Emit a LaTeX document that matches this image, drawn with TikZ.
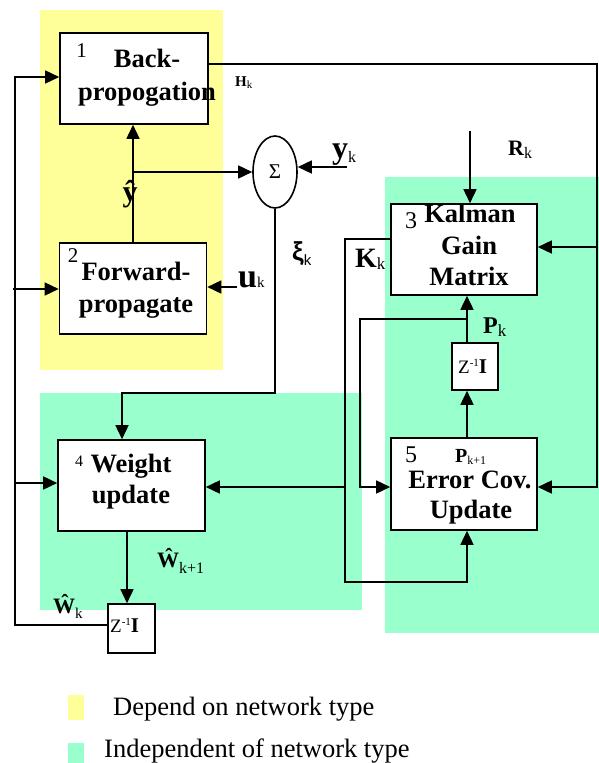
\documentclass[tikz,border=0pt]{standalone}
\usepackage{fontspec}
\setmainfont{Liberation Serif}
\setsansfont{Liberation Sans}
\usetikzlibrary{arrows.meta,shapes.geometric}
\definecolor{yel}{HTML}{FFFF99}
\definecolor{grn}{HTML}{99FFCC}
\newcommand\fsz[1]{\fontsize{#1}{#1}\selectfont}
\begin{document}
\begin{tikzpicture}[x=1pt,y=-1pt,
  box/.style={draw, line width=1.6pt, fill=white, inner sep=0pt, rectangle},
  wire/.style={line width=1.6pt},
  arr/.style={wire, -{Triangle[length=14pt,width=13pt]}},
  bt/.style={inner sep=0pt, anchor=base, font=\fsz{26.5}\bfseries},
  lbl/.style={inner sep=0pt, anchor=base west},
  num/.style={inner sep=0pt, anchor=base},
]
\useasboundingbox (0,0) rectangle (599,763);
% background regions
\fill[yel] (40,10) rectangle (223,370);
\fill[grn] (385,177) rectangle (599,633);
\fill[grn] (40,393) rectangle (362,610);

% boxes
\node[box, minimum width=148pt, minimum height=91pt] (b1) at (134,78.5) {};
\node[box, minimum width=147pt, minimum height=91pt] (b2) at (133,288.5) {};
\node[box, minimum width=146pt, minimum height=91pt] (b3) at (464,249.5) {};
\node[box, minimum width=147pt, minimum height=91pt] (b4) at (131.5,485.5) {};
\node[box, minimum width=146pt, minimum height=92pt] (b5) at (464,484) {};
\node[box, minimum width=46pt, minimum height=47pt] (z1) at (475,366.5) {};
\node[box, minimum width=47pt, minimum height=49pt] (z2) at (131.5,628.5) {};
\node[draw, line width=1.6pt, ellipse, fill=white, inner sep=0pt,
      minimum width=44pt, minimum height=72pt, font=\fsz{21}] (sig) at (275,172) {Σ};

% box texts
\node[bt] (t1a) at (147,67) {Back-};
\node[bt] (t1b) at (147,100) {propogation};
\node[num, font=\fsz{21}] (n1) at (81.5,57) {1};
\node[bt] (t2a) at (136,280) {Forward-};
\node[bt] (t2b) at (136,312) {propagate};
\node[num, font=\fsz{21}] (n2) at (73,262) {2};
\node[bt] (t3a) at (470,222) {Kalman};
\node[bt] (t3b) at (469,254) {Gain};
\node[bt] (t3c) at (469,285) {Matrix};
\node[num, font=\fsz{24}] (n3) at (411,228) {3};
\node[bt] (t4a) at (131,472) {Weight};
\node[bt] (t4b) at (131,503) {update};
\node[num, font=\fsz{16}] (n4) at (79,466) {4};
\node[bt] (t5a) at (470,488) {Error Cov.};
\node[bt] (t5b) at (471,518) {Update};
\node[num, font=\fsz{24}] (n5) at (411,462) {5};
\node[lbl] (pk1) at (455,462) {{\fsz{20}\bfseries P}\raisebox{-2pt}{\fsz{12}k+1}};
\node[lbl] (z1t) at (458,373) {{\fsz{19}Z}\raisebox{7pt}{\fsz{11}-1}{\fsz{21}\bfseries I}};
\node[lbl] (z2t) at (110,632) {{\fsz{19}Z}\raisebox{7pt}{\fsz{11}-1}{\fsz{21}\bfseries I}};

% connectors
\draw[arr] (b2.north) -- (b2.north |- b1.south);
\coordinate (j1) at (133,172);
\draw[arr] (j1) -- (j1 -| sig.west);
\node[inner sep=0pt, anchor=base, font=\fsz{30}\bfseries] (yhat) at (130,201) {ŷ};

\coordinate (uk) at (237,287);
\draw[arr] (uk) -- (uk -| b2.east);
\node[lbl] (ukl) at (238,287) {{\fsz{34}\bfseries u}{\fsz{15}k}};

\coordinate (yk) at (347,167);
\draw[arr] (yk) -- (yk -| sig.east);
\node[lbl] (ykl) at (332,158) {{\fsz{32}\bfseries y}\raisebox{-4pt}{\fsz{16}k}};

\coordinate (rt) at (597,64);
\coordinate (r3) at (597,247);
\coordinate (r5) at (597,487);
\draw[arr] (b1.east |- rt) -- (rt) -- (r5) -- (r5 -| b5.east);
\draw[arr] (r3) -- (r3 -| b3.east);
\node[lbl] (hk) at (235,86) {{\fsz{15}\bfseries H}\raisebox{-2pt}{\fsz{11}k}};

\coordinate (rkc) at (470,131);
\draw[arr] (rkc) -- (rkc |- b3.north);
\node[lbl] (rkl) at (508,155) {{\fsz{22}\bfseries R}\raisebox{-3pt}{\fsz{16}k}};

\coordinate (kc) at (345,239);
\coordinate (kb) at (345,582);
\coordinate (kb2) at (467,582);
\coordinate (kw) at (345,487);
\draw[arr] (b3.west |- kc) -- (kc) -- (kb) -- (kb2) -- (kb2 |- b5.south);
\draw[arr] (kw) -- (kw -| b4.east);
\node[lbl] (kkl) at (355,267) {{\fsz{28}\bfseries K}\raisebox{-2pt}{\fsz{17}k}};

\coordinate (pa) at (467,319);
\coordinate (pb) at (360,319);
\coordinate (pc) at (360,487);
\draw[arr] (z1.north -| pa) -- (pa |- b3.south);
\draw[arr] (pa) -- (pb) -- (pc) -- (pc -| b5.west);
\draw[arr] (b5.north -| pa) -- (pa |- z1.south);
\node[lbl] (pkl) at (483,333) {{\fsz{24}\bfseries P}\raisebox{-3pt}{\fsz{17}k}};

\coordinate (sa) at (275,393);
\coordinate (sb) at (122,393);
\draw[arr] (sig.south) -- (sa) -- (sb) -- (sb |- b4.north);
\node[lbl] (xil) at (292,260) {{\sffamily\fsz{26}\bfseries ξ}\raisebox{-5pt}{\sffamily\fsz{15}k}};

\coordinate (wd) at (127,531);
\draw[arr] (b4.south -| wd) -- (wd |- z2.north);
\node[lbl] (w1l) at (157,567) {{\fsz{22}\bfseries Ŵ}\raisebox{-6pt}{\fsz{16}k+1}};

\coordinate (la) at (15,625);
\coordinate (lb) at (15,77);
\coordinate (lc) at (13,289);
\coordinate (ld) at (15,483);
\draw[arr] (z2.west |- la) -- (la) -- (lb) -- (lb -| b1.west);
\draw[arr] (lc) -- (lc -| b2.west);
\draw[arr] (ld) -- (ld -| b4.west);
\node[lbl] (wkl) at (53,613) {{\fsz{22}\bfseries Ŵ}\raisebox{-5pt}{\fsz{15}k}};

% legend
\fill[yel] (68,695) rectangle (84,720);
\node[lbl, font=\fsz{26.5}] (leg1) at (113,715) {Depend on network type};
\fill[grn] (68,743) rectangle (84,763);
\node[lbl, font=\fsz{26.5}] (leg2) at (104,757) {Independent of network type};
\end{tikzpicture}
\end{document}
